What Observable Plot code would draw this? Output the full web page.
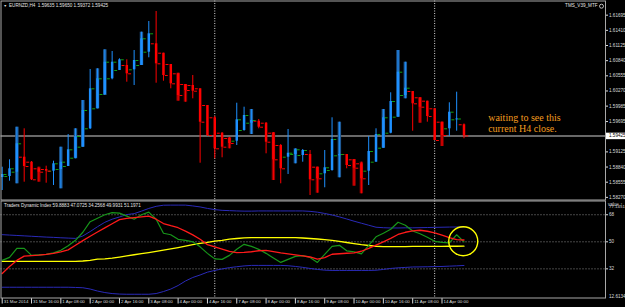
<!DOCTYPE html>
<html><head><meta charset="utf-8">
<script src="https://cdn.jsdelivr.net/npm/d3@7"></script>
<script src="https://cdn.jsdelivr.net/npm/@observablehq/plot@0.6"></script>
<style>
html,body{margin:0;padding:0;background:#000;}
#chart{position:relative;width:625px;height:307px;background:#000;overflow:hidden;}
#chart .panel{position:absolute;left:0;}
#chart svg{display:block;}
</style></head><body><div id="chart"></div>
<script>
// ---- EURNZD H4 candles (bar index 0 = 31 Mar 2014 00:00) ----
const opens=[1.58643,1.58662,1.58743,1.59025,1.58931,1.58807,1.58794,1.58762,1.58794,1.58850,
 1.59006,1.59213,1.59559,1.59935,1.60204,1.60499,1.60655,1.60749,1.60668,1.60749,
 1.60999,1.61157,1.60980,1.60768,1.60593,1.60392,1.60373,1.60311,1.59997,1.59766,
 1.59476,1.59377,1.59326,1.59527,1.59664,1.59702,1.59664,1.59476,1.59245,1.59025,
 1.59076,1.59057,1.59076,1.58837,1.58713,1.58775,1.59051,1.59076,1.58976,1.58901,
 1.58762,1.58931,1.59194,1.59476,1.59777,1.60185,1.60260,1.60142,1.60078,1.59935,
 1.59683,1.59559,1.59728,1.59635];
const highs=[1.58837,1.58976,1.59589,1.59559,1.58944,1.58837,1.58856,1.58950,1.59213,1.59452,
 1.59559,1.60091,1.60674,1.60687,1.61044,1.61012,1.60875,1.60856,1.61031,1.61375,
 1.61576,1.61764,1.60980,1.60768,1.60604,1.60392,1.60561,1.60311,1.59997,1.59790,
 1.59489,1.59395,1.60040,1.59965,1.59922,1.59734,1.59677,1.59489,1.59264,1.59546,
 1.59183,1.59170,1.59151,1.58837,1.59151,1.59766,1.59683,1.59076,1.58982,1.58931,
 1.59414,1.59559,1.59922,1.60236,1.61031,1.60811,1.60260,1.60142,1.60078,1.59935,
 1.59683,1.60048,1.60247,1.59650];
const lows=[1.58399,1.58574,1.58525,1.58555,1.58587,1.58555,1.58536,1.58493,1.58431,1.58850,
 1.58995,1.59213,1.59546,1.59935,1.60185,1.60480,1.60655,1.60435,1.60373,1.60749,
 1.60894,1.60416,1.60454,1.60311,1.60078,1.60059,1.60123,1.58912,1.59414,1.58995,
 1.59014,1.59183,1.59245,1.59514,1.59452,1.59559,1.59089,1.58587,1.58525,1.58700,
 1.58901,1.58931,1.58305,1.58348,1.58450,1.58762,1.58638,1.58807,1.58480,1.58337,
 1.58493,1.58931,1.59194,1.59465,1.59777,1.60123,1.59514,1.59664,1.59683,1.59339,
 1.59226,1.59414,1.59514,1.59372];
const closes=[1.58700,1.58807,1.59277,1.58850,1.58600,1.58743,1.58762,1.58901,1.58931,1.59164,
 1.59414,1.59903,1.60311,1.60499,1.60811,1.60811,1.60856,1.60593,1.60843,1.61251,
 1.61345,1.60781,1.60561,1.60405,1.60185,1.60279,1.60266,1.59683,1.59433,1.59183,
 1.59213,1.59283,1.59728,1.59809,1.59715,1.59589,1.59307,1.58976,1.58807,1.59100,
 1.59164,1.59151,1.58600,1.58619,1.58826,1.59358,1.59076,1.58869,1.58818,1.58619,
 1.59132,1.59452,1.59766,1.60072,1.60623,1.60322,1.60029,1.59965,1.59790,1.59339,
 1.59433,1.59871,1.59743,1.59425];
// bars that also show the darker (TMS) overlay
const shadowBars=[2,5,8,10,11,13,14,19,24,25,31,34,37,40,43,46,48,49,52,54,55,57,60];
const separators=[29,59];
const symbolName="EURNZD,H4";
const indicatorName="TMS_V39_MTF";
const priceTicks=[1.61695,1.61410,1.61125,1.60840,1.60555,1.60270,1.59985,1.59695,1.59125,1.58840,1.58555,1.58270];
const timeTickBars=[0,4,8,12,16,20,24,28,32,36,40,44,48,52,56,60];
const timeLabels=["31 Mar 2014","31 Mar 16:00","1 Apr 08:00","2 Apr 00:00","2 Apr 16:00","3 Apr 08:00","4 Apr 00:00","4 Apr 16:00","7 Apr 08:00","8 Apr 00:00","8 Apr 16:00","9 Apr 08:00","10 Apr 00:00","10 Apr 16:00","11 Apr 08:00","14 Apr 00:00"];

// ---- Traders Dynamic Index ----
const tdiUpper=[54.75,54.48,54.22,53.95,53.68,53.41,53.14,52.95,52.68,52.47,
 52.27,53.88,56.82,60.03,62.97,65.04,66.52,68.12,68.73,70.40,
 72.20,73.60,74.34,74.41,74.41,74.41,73.87,73.20,72.20,71.40,
 70.93,70.73,70.53,70.40,70.40,70.53,70.53,70.53,70.53,70.53,
 70.53,70.53,70.26,69.72,68.86,67.85,66.58,65.18,63.71,62.37,
 61.03,59.70,59.37,59.20,59.20,59.30,59.30,59.40,59.50,59.60,
 59.70,59.80,59.85,59.8883];
const tdiBase=[36.96,36.96,36.96,36.96,36.96,36.96,36.96,36.96,36.96,36.96,
 36.96,37.23,37.70,38.43,38.63,39.10,39.84,40.57,41.38,42.11,
 42.85,43.65,44.45,45.32,46.19,47.13,48.06,48.94,49.67,50.40,
 51.00,51.81,52.20,52.61,52.81,52.81,52.81,52.81,52.81,52.81,
 52.81,52.54,52.20,51.87,51.47,51.00,50.27,49.53,48.80,48.06,
 47.53,47.05,46.80,46.80,46.80,46.85,46.90,46.90,46.95,47.00,
 47.00,47.05,47.05,47.0725];
const tdiLower=[19.77,19.77,19.77,19.77,19.77,19.77,19.77,19.77,19.77,19.77,
 19.64,19.44,18.57,17.24,16.24,15.57,15.23,15.10,15.10,15.10,
 15.10,15.57,16.90,18.57,20.91,23.92,26.26,27.93,29.81,30.95,
 31.95,32.82,33.42,33.96,34.29,34.29,34.29,34.29,34.29,34.09,
 33.61,33.01,32.28,31.61,31.14,30.95,30.95,30.95,30.95,30.95,
 30.95,31.08,31.61,32.28,32.68,32.95,33.25,33.30,33.40,33.50,
 33.60,33.80,34.00,34.2568];
const tdiRsi=[37.63,39.63,45.66,45.66,40.97,41.31,41.64,42.64,44.31,47.32,
 51.00,56.35,63.38,65.71,68.00,69.39,69.05,67.05,65.04,68.00,
 69.72,65.04,55.69,54.68,51.67,51.00,50.00,46.66,42.31,38.63,
 38.30,40.97,44.99,48.33,46.99,44.99,42.31,39.30,36.29,38.30,
 40.30,40.77,39.63,36.29,41.64,46.99,47.66,43.98,43.31,41.98,
 47.66,53.34,55.69,58.36,63.04,61.03,57.15,55.34,53.01,50.33,
 49.67,49.33,54.68,49.9931];
const tdiSignal=[28.94,33.61,37.63,40.51,40.77,41.11,41.64,42.31,43.31,44.66,
 47.66,50.81,53.68,56.55,59.29,62.03,64.71,65.52,66.04,66.52,
 67.05,65.04,62.17,60.70,59.37,57.15,54.61,51.67,48.13,46.66,
 45.12,43.65,42.77,42.91,43.38,44.05,44.25,43.45,42.58,41.91,
 41.24,40.57,39.90,38.43,39.50,41.71,42.04,42.38,42.64,43.71,
 45.66,47.80,50.00,52.27,54.88,56.35,57.29,57.69,57.02,55.95,
 54.48,52.74,51.47,51.1971];
const tdiLevels=[68,50,32];
const tdiRange=[12.6134,77.1451];

// ---- annotations ----
const noteText="waiting to see this\ncurrent H4 close.";
const noteAnchor={bar:66.3, price:1.59847};
const circleAnchor={bar:62.9, value:50.4};

// ---- layout / scales ----
const PAGE_W=625, PLOT_RIGHT=605, BAR_STEP=7.33, FIRST_BAR_X=1.7;
const PRICE_TOP=1.61971, PRICE_PER_PX=0.000188;
const barAt=px=>(px-FIRST_BAR_X)/BAR_STEP;
const priceAt=px=>PRICE_TOP-PRICE_PER_PX*px;
const xDomain=[barAt(0.5), barAt(PLOT_RIGHT)];
const boxEnd=barAt(PAGE_W);
const yDomain=[priceAt(199.5), priceAt(0.5)];
const TDI_H=108, TDI_MT=1.5, TDI_MB=9.5;
const tdiPerPx=(tdiRange[1]-tdiRange[0])/(TDI_H-TDI_MT-TDI_MB);
const timeTickDepth=5.5*tdiPerPx;

const BULL="#1e90ff", BEAR="#ff0000", BULL_DARK="#1f5a96", BEAR_DARK="#8e0000";
const candles=opens.map((o,i)=>{
  const c=closes[i];
  let lo=Math.min(o,c), hi=Math.max(o,c);
  if(hi-lo<PRICE_PER_PX){const m=(hi+lo)/2; lo=m-PRICE_PER_PX/2; hi=m+PRICE_PER_PX/2;}
  return {i,o,h:highs[i],l:lows[i],c,up:c>=o,bodyLo:lo,bodyHi:hi};
});
const last=candles[candles.length-1];
const titleText=symbolName+"  "+[last.o,last.h,last.l,last.c].map(v=>v.toFixed(5)).join(" ");
const tdiTitle="Traders Dynamic Index "+[tdiUpper,tdiBase,tdiLower,tdiRsi,tdiSignal].map(a=>a[a.length-1].toFixed(4)).join(" ");

const baseStyle={background:"transparent",color:"#dcdcdc",fontFamily:"Liberation Sans, Arial, sans-serif",fontSize:"4.6px",overflow:"visible"};

const mainSvg=Plot.plot({
  width:625,height:200,marginLeft:0.5,marginRight:20,marginTop:0.5,marginBottom:0.5,
  x:{domain:xDomain,axis:null},
  y:{domain:yDomain,axis:null},
  style:baseStyle,
  marks:[
    Plot.ruleX(separators,{x:d=>d,stroke:"#d8d8d8",strokeDasharray:"1,1.5"}),
    Plot.ruleY([last.c],{y:d=>d,stroke:"#686868",strokeWidth:2}),
    Plot.ruleX(candles.filter(d=>shadowBars.includes(d.i)),{x:"i",y1:"l",y2:"h",stroke:d=>d.up?BULL_DARK:BEAR_DARK,strokeWidth:3.4}),
    Plot.ruleX(candles,{x:"i",y1:"l",y2:"h",stroke:d=>d.up?BULL:BEAR,strokeWidth:1}),
    Plot.ruleX(candles,{x:"i",y1:"bodyLo",y2:"bodyHi",stroke:d=>d.up?BULL:BEAR,strokeWidth:2.5}),
    Plot.ruleY(candles,{y:"o",x1:d=>d.i-0.65,x2:d=>d.i-0.25,stroke:d=>d.up?"#10a010":BEAR,strokeWidth:1}),
    Plot.ruleY(candles,{y:"c",x1:d=>d.i+0.25,x2:d=>d.i+0.65,stroke:d=>d.up?"#10a010":BEAR,strokeWidth:1}),
    Plot.text([noteText],{x:()=>noteAnchor.bar,y:()=>noteAnchor.price,text:d=>d,textAnchor:"start",lineAnchor:"top",lineHeight:1.07,fontFamily:"Liberation Serif, Times New Roman, serif",fontSize:10,fill:"#f39c1f"}),
    Plot.text(["\u25BC"],{frameAnchor:"top-left",text:d=>d,dx:2.5,dy:3,lineAnchor:"top",fontSize:3.5,fill:"#e6e6e6"}),
    Plot.text([titleText],{frameAnchor:"top-left",text:d=>d,dx:8,dy:3,lineAnchor:"top",textAnchor:"start",fontSize:4.6,fill:"#e6e6e6"}),
    Plot.text([indicatorName],{frameAnchor:"top-right",text:d=>d,dx:-8,dy:3,lineAnchor:"top",textAnchor:"end",fontSize:4.6,fill:"#e6e6e6"}),
    Plot.dot([0],{frameAnchor:"top-right",dx:-4,dy:5.2,r:2,stroke:"#e6e6e6",strokeWidth:0.8,fill:"none"}),
    Plot.axisY(priceTicks,{anchor:"right",tickSize:2,tickPadding:1.5,tickFormat:d=>d.toFixed(5),color:"#dcdcdc",fontSize:4.6}),
    Plot.ruleY([last.c],{y:d=>d,x1:()=>xDomain[1],x2:()=>boxEnd,stroke:"#ffffff",strokeWidth:6.5}),
    Plot.text([last.c],{y:d=>d,x:()=>xDomain[1],text:d=>d.toFixed(5),textAnchor:"start",dx:3.5,fill:"#000",fontSize:4.6}),
    Plot.frame({stroke:"#a8a8a8"})
  ]
});

const tdiSvg=Plot.plot({
  width:625,height:TDI_H,marginLeft:0.5,marginRight:20,marginTop:TDI_MT,marginBottom:TDI_MB,
  x:{domain:xDomain,axis:null},
  y:{domain:tdiRange,axis:null},
  style:baseStyle,
  marks:[
    Plot.ruleY(tdiLevels,{y:d=>d,stroke:"#8c8c8c",strokeDasharray:"1,2"}),
    Plot.ruleX(separators,{x:d=>d,stroke:"#d8d8d8",strokeDasharray:"1,1.5"}),
    Plot.lineY(tdiUpper,{stroke:"#2a2ab8",strokeWidth:1}),
    Plot.lineY(tdiBase,{stroke:"#ffff00",strokeWidth:1.3}),
    Plot.lineY(tdiLower,{stroke:"#2a2ab8",strokeWidth:1}),
    Plot.lineY(tdiRsi,{stroke:"#17961a",strokeWidth:1.2}),
    Plot.lineY(tdiSignal,{stroke:"#ff1a1a",strokeWidth:1.3}),
    Plot.dot([circleAnchor],{x:"bar",y:"value",r:14.5,stroke:"#ffff00",strokeWidth:1.4,fill:"none"}),
    Plot.text([tdiTitle],{frameAnchor:"top-left",text:d=>d,dx:3,dy:2.5,lineAnchor:"top",textAnchor:"start",fontSize:4.6,fill:"#e6e6e6"}),
    Plot.axisY(tdiLevels,{anchor:"right",tickSize:2,tickPadding:1.5,tickFormat:d=>String(d),color:"#dcdcdc",fontSize:4.6}),
    Plot.text([tdiRange[1]],{y:d=>d,x:()=>xDomain[1],text:d=>d.toFixed(4),textAnchor:"start",lineAnchor:"top",dx:3.5,dy:4,fill:"#dcdcdc",fontSize:4.4}),
    Plot.text([tdiRange[0]],{y:d=>d,x:()=>xDomain[1],text:d=>d.toFixed(4),textAnchor:"start",lineAnchor:"bottom",dx:3.5,dy:-0.5,fill:"#dcdcdc",fontSize:4.6}),
    Plot.link(timeTickBars,{x1:d=>d,x2:d=>d,y1:()=>tdiRange[0],y2:()=>tdiRange[0]-timeTickDepth,stroke:"#dcdcdc",strokeWidth:1}),
    Plot.text(timeTickBars,{x:d=>d,y:()=>tdiRange[0]-timeTickDepth/2,text:d=>timeLabels[timeTickBars.indexOf(d)],textAnchor:"start",lineAnchor:"middle",dx:1.5,dy:0.5,fill:"#dcdcdc",fontSize:4.4}),
    Plot.frame({stroke:"#a8a8a8"})
  ]
});

const chart=document.getElementById("chart");
const p1=document.createElement("div"); p1.className="panel"; p1.style.top="0px"; p1.appendChild(mainSvg);
const p2=document.createElement("div"); p2.className="panel"; p2.style.top="199px"; p2.appendChild(tdiSvg);
chart.appendChild(p1); chart.appendChild(p2);
</script></body></html>
